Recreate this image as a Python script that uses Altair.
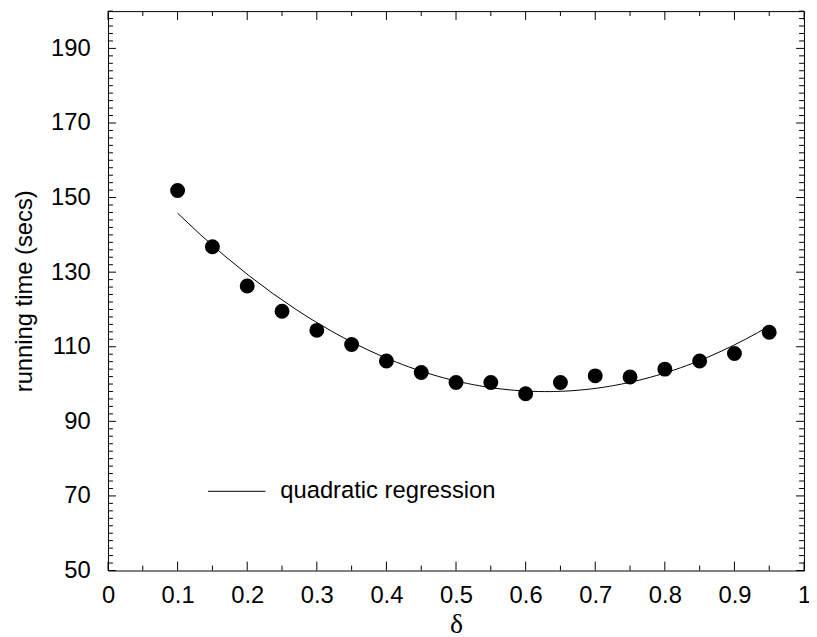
import altair as alt
import pandas as pd

# data
delta = [0.1, 0.15, 0.2, 0.25, 0.3, 0.35, 0.4, 0.45, 0.5, 0.55,
         0.6, 0.65, 0.7, 0.75, 0.8, 0.85, 0.9, 0.95]
running_time = [151.9, 136.8, 126.3, 119.5, 114.4, 110.6, 106.2, 103.1, 100.4, 100.4,
                97.4, 100.4, 102.2, 101.9, 104.0, 106.2, 108.2, 113.9]

x_major = [0, 0.1, 0.2, 0.3, 0.4, 0.5, 0.6, 0.7, 0.8, 0.9, 1]
x_minor = [0.05, 0.15, 0.25, 0.35, 0.45, 0.55, 0.65, 0.75, 0.85, 0.95]
y_major = [50, 70, 90, 110, 130, 150, 170, 190]
y_minor = [v for v in range(50, 201, 2) if v not in y_major]
legend_label = ["quadratic regression"]

W, H = 703, 565
FONT = "Liberation Sans"

df = pd.DataFrame({"delta": delta, "time": running_time})

xscale = alt.Scale(domain=[0, 1], nice=False, zero=False)
yscale = alt.Scale(domain=[50, 200], nice=False, zero=False)

xaxis = alt.Axis(values=x_major, format="~g", title="δ", grid=False, ticks=False,
                 domain=False, labelFont=FONT, labelFontSize=24, labelColor="black",
                 labelPadding=13, labelFlush=False, titleFont="Liberation Serif",
                 titleFontSize=28, titleFontWeight="normal", titleColor="black",
                 titlePadding=4)
yaxis = alt.Axis(values=y_major, title="running time (secs)", grid=False, ticks=False,
                 domain=False, labelFont=FONT, labelFontSize=24, labelColor="black",
                 labelPadding=18, labelFlush=False, titleFont=FONT, titleFontSize=24,
                 titleFontWeight="normal", titleColor="black", titlePadding=14)

points = alt.Chart(df).mark_circle(size=227, color="black", opacity=1).encode(
    x=alt.X("delta:Q", scale=xscale, axis=xaxis),
    y=alt.Y("time:Q", scale=yscale, axis=yaxis),
)

fit = alt.Chart(df).transform_regression(
    "delta", "time", method="quad", extent=[0.1, 0.95]
).mark_line(color="black", strokeWidth=1).encode(
    x=alt.X("delta:Q", scale=xscale),
    y=alt.Y("time:Q", scale=yscale),
)


def yticks(vals, length):
    d = pd.DataFrame({"time": vals})
    left = alt.Chart(d).mark_rule(color="black", strokeWidth=1).encode(
        y=alt.Y("time:Q", scale=yscale),
        x=alt.value(0), x2=alt.value(length))
    right = alt.Chart(d).mark_rule(color="black", strokeWidth=1).encode(
        y=alt.Y("time:Q", scale=yscale),
        x=alt.value(W), x2=alt.value(W - length))
    return [left, right]


def xticks(vals, length):
    d = pd.DataFrame({"delta": vals})
    bottom = alt.Chart(d).mark_rule(color="black", strokeWidth=1).encode(
        x=alt.X("delta:Q", scale=xscale),
        y=alt.value(H), y2=alt.value(H - length))
    top = alt.Chart(d).mark_rule(color="black", strokeWidth=1).encode(
        x=alt.X("delta:Q", scale=xscale),
        y=alt.value(0), y2=alt.value(length))
    return [bottom, top]


ldf = pd.DataFrame({"label": legend_label})
leg_line = alt.Chart(ldf).mark_rule(color="black", strokeWidth=1).encode(
    x=alt.value(101), x2=alt.value(159), y=alt.value(485))
leg_text = alt.Chart(ldf).mark_text(
    font=FONT, fontSize=24, align="left", baseline="middle", color="black"
).encode(x=alt.value(174), y=alt.value(485), text="label:N")

layers = [points, fit] + yticks(y_major, 8) + yticks(y_minor, 5) \
    + xticks(x_major, 9) + xticks(x_minor, 5) + [leg_line, leg_text]

chart = alt.layer(*layers).properties(
    width=W, height=H,
    autosize=alt.AutoSizeParams(type="none"),
    padding={"left": 101, "top": 0, "right": 5, "bottom": 63},
).configure(background="white").configure_view(stroke="black", strokeWidth=1)

chart.save("out.html", embed_options={"renderer": "svg", "actions": False})
